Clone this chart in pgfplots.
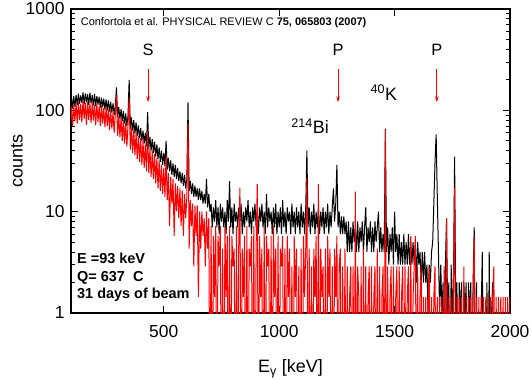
\documentclass[border=0pt]{standalone}
\usepackage{pgfplots}
\pgfplotsset{compat=1.18}
\usepackage{pgfplotstable}
\usetikzlibrary{arrows.meta}
\usepackage{fontspec}
\setmainfont{Liberation Sans}
\pgfplotstableread{
x b r
95 112 72
100 135 108
105 104 70
110 138 112
115 108 78
120 142 118
125 112 74
130 146 121
135 116 80
140 140 115
145 118 76
150 150 124
155 114 82
160 147 119
165 120 72
170 144 122
175 113 80
180 149 117
185 117 75
190 141 120
195 112 79
200 145 114
205 110 71
210 138 116
215 114 77
220 136 110
225 106 70
230 133 113
235 108 74
240 130 106
245 102 68
250 128 108
255 100 70
260 125 102
265 97 64
270 121 100
275 95 66
280 117 95
285 90 60
290 112 92
295 168 142
300 86 56
305 108 88
310 82 54
315 103 84
320 78 50
325 98 80
330 74 47
335 93 76
340 70 44
345 89 71
350 200 132
355 66 41
360 85 68
365 63 38
370 80 64
375 59 36
380 76 60
385 56 33
390 71 56
395 53 31
400 67 53
405 50 29
410 63 50
415 47 27
420 60 46
425 44 25
430 96 62
435 42 24
440 55 42
445 40 22
450 52 40
455 38 21
460 49 37
465 35 19
470 46 34
475 33 17
480 43 32
485 31 16
490 40 29
495 29 15
500 38 27
505 28 14
510 50 36
515 26 13
520 34 24
525 25 7.2
530 32 22
535 23 12
540 30 21
545 22 5.76
550 29 19
555 21 10.08
560 27 18
565 20 8.64
570 25 17
575 19 7.2
580 24 16
585 18 5.76
590 23 15
595 17 8.64
600 21 14
605 120 75
610 16 4.32
615 20 13
620 15 7.2
625 19 12
630 14 2.88
635 18 11.5
640 14 5.76
645 17 11.5
650 13 1.44
655 17 10.08
660 13 4.32
665 16 10.08
670 12 5.76
675 15 8.64
680 12 2.88
685 21 10.08
690 11 4.32
695 15 8.64
700 10 0.05
705 12 7.2
710 7 0.05
715 11 5.76
720 8 1.44
725 13 7.2
730 7 0.05
735 11 5.76
740 6 2.88
745 12 7.2
750 8 0.05
755 11 4.32
760 7 0.05
765 10 7.2
770 6 1.44
775 13 5.76
780 8 0.05
785 20 7.2
790 7 0.05
795 11 5.76
800 6 2.88
805 12 4.32
810 8 0.05
815 10 7.2
820 7 0.05
825 11 5.76
830 8 17.3
835 12 0.05
840 6 4.32
845 10 1.44
850 7 5.76
855 11 0.05
860 8 7.2
865 13 0.05
870 7 4.32
875 10 2.88
880 6 5.76
885 11 0.05
890 8 7.2
895 12 0.05
900 7 4.32
905 10 18.7
910 6 0.05
915 11 5.76
920 8 1.44
925 12 4.32
930 7 0.05
935 10 7.2
940 6 0.05
945 15 5.76
950 7 2.88
955 11 4.32
960 8 0.05
965 10 5.76
970 6 0.05
975 11 7.2
980 7 1.44
985 12 4.32
990 6 0.05
995 10 5.76
1000 7 0.05
1005 11 4.32
1010 6 2.88
1015 13 5.76
1020 7 0.05
1025 10 4.32
1030 6 0.05
1035 11 5.76
1040 8 1.44
1045 10 4.32
1050 6 0.05
1055 12 2.88
1060 7 0.05
1065 10 5.76
1070 6 1.44
1075 11 4.32
1080 7 0.05
1085 10 2.88
1090 6 0.05
1095 12 4.32
1100 7 0.05
1105 10 5.76
1110 6 1.44
1115 11 4.32
1120 40 21.6
1125 7 0.05
1130 11 4.32
1135 6 0.05
1140 10 2.88
1145 7 0.05
1150 12 4.32
1155 6 1.44
1160 10 5.76
1165 7 0.05
1170 11 18.7
1175 6 0.05
1180 10 4.32
1185 7 1.44
1190 11 2.88
1195 6 0.05
1200 10 4.32
1205 7 0.05
1210 12 5.76
1215 6 1.44
1220 10 4.32
1225 7 0.05
1230 11 2.88
1235 17 0.05
1240 8 4.32
1245 12 1.44
1250 29 5.76
1255 7 0.05
1260 10 2.88
1265 6 4.32
1270 9 0.05
1275 6 2.88
1280 9 0.05
1285 6 4.32
1290 8 0.05
1295 4 2.88
1300 8 0.05
1305 4 1.44
1310 7 2.88
1315 4 0.05
1320 8 2.88
1325 5 0.05
1330 7 15.8
1335 4 0.05
1340 8 2.88
1345 4 1.44
1350 7 0.05
1355 5 2.88
1360 8 0.05
1365 4 4.32
1370 7 0.05
1375 11 2.88
1380 4 0.05
1385 7 1.44
1390 5 2.88
1395 8 0.05
1400 4 2.88
1405 7 0.05
1410 4 1.44
1415 8 2.88
1420 5 0.05
1425 7 4.32
1430 10 0.05
1435 4 2.88
1440 7 0.05
1445 4 1.44
1450 6 2.88
1455 4 0.05
1460 66 64
1465 4 0.05
1470 7 2.88
1475 3 0.05
1480 6 1.44
1485 4 2.88
1490 7 0.05
1495 3 2.88
1500 10 0.05
1505 4 1.44
1510 6 2.88
1515 3 0.05
1520 6 2.88
1525 3 0.05
1530 5 1.44
1535 3 2.88
1540 6 0.05
1545 3 2.88
1550 5 0.05
1555 3 1.44
1560 6 2.88
1565 3 0.05
1570 5 5.76
1575 3 0.05
1580 5 1.44
1585 3 2.88
1590 5 5.76
1595 2 0.05
1600 5 2.88
1605 3 0.05
1610 4 1.44
1615 2 2.88
1620 4 0.05
1625 2 1.44
1630 4 0.05
1635 2 1.44
1640 3 0.05
1645 1 1.44
1650 3 2.88
1655 2 0.05
1660 4 1.44
1665 5 0.05
1670 12 1.44
1675 30 2.88
1680 58 0.05
1685 14 1.44
1690 4 0.05
1695 1 1.44
1700 3 0.05
1705 1 1.44
1710 2 0.05
1715 0.05 2.88
1720 3 0.05
1725 8 8.64
1730 1 0.05
1735 2 1.44
1740 0.05 0.05
1745 3 1.44
1750 1 0.05
1755 2 1.44
1760 35 17.3
1765 1 0.05
1770 2 1.44
1775 0.05 0.05
1780 2 1.44
1785 1 0.05
1790 2 1.44
1795 0.05 0.05
1800 2 2.88
1805 1 0.05
1810 2 1.44
1815 0.05 0.05
1820 2 1.44
1825 1 0.05
1830 2 1.44
1835 0.05 0.05
1840 2 1.44
1845 7 5.76
1850 0.05 0.05
1855 2 1.44
1860 0.05 0.05
1865 1 1.44
1870 0.05 0.05
1875 1 1.44
1880 4 0.05
1885 0.05 1.44
1890 1 0.05
1895 0.05 1.44
1900 2 0.05
1905 0.05 1.44
1910 4 0.05
1915 0.05 1.44
1920 1 0.05
1925 2 1.44
1930 0.05 2.88
1935 1 0.05
1940 0.05 1.44
1945 1 0.05
1950 0.05 1.44
1955 1 0.05
1960 0.05 1.44
1965 1 0.05
1970 0.05 1.44
1975 1 0.05
1980 0.05 1.44
1985 1 0.05
1990 0.05 1.44
1995 1 0.05
2000 0.05 1.44
2005 1 0.05
}\spec
\begin{document}
\begin{tikzpicture}
\begin{axis}[
  scale only axis, width=439bp, height=304bp,
  xmin=98, xmax=2000, ymin=1, ymax=1000, ymode=log,
  xtick={500,1000,1500,2000}, xticklabels={500,1000,1500,2000},
  ytick={1,10,100,1000}, yticklabels={1,10,100,1000},
  minor ytick={2,3,4,5,6,7,8,9,20,30,40,50,60,70,80,90,200,300,400,500,600,700,800,900},
  tick align=inside, tick pos=both,
  xticklabel pos=lower, yticklabel pos=left,
  major tick length=7bp, minor tick length=4bp,
  every tick/.style={black, line width=0.8bp},
  axis line style={line width=1.1bp},
  ticklabel style={font=\fontsize{17.5}{20}\selectfont},
  yticklabel style={xshift=-3bp},
  xticklabel style={yshift=-9bp},
  xlabel={E\textsubscript{γ} [keV]},
  ylabel={counts},
  every axis x label/.style={at={(axis description cs:0.5,0)}, anchor=center, yshift=-56bp, font=\fontsize{18}{20}\selectfont},
  every axis y label/.style={at={(axis description cs:-0.123,0.5)}, anchor=center, rotate=90, font=\fontsize{18}{20}\selectfont},
]
\addplot[black, sharp plot, line width=1.0bp, line join=bevel] table[x=x, y=b] {\spec};
\addplot[red, sharp plot, line width=1.0bp, line join=bevel] table[x=x, y=r] {\spec};
\coordinate (sw) at (rel axis cs:0,0);
\coordinate (ne) at (rel axis cs:1,1);
\node[anchor=base west, inner sep=0pt, font=\fontsize{11}{13}\selectfont] at (axis cs:140,684) {Confortola et al. PHYSICAL REVIEW C \textbf{75, 065803 (2007)}};
\node[anchor=base, inner sep=0pt, font=\fontsize{16.5}{19}\selectfont] at (axis cs:432,351) {S};
\node[anchor=base, inner sep=0pt, font=\fontsize{16.5}{19}\selectfont] at (axis cs:1255,351) {P};
\node[anchor=base, inner sep=0pt, font=\fontsize{16.5}{19}\selectfont] at (axis cs:1683,351) {P};
\draw[red, line width=0.9bp, -{Stealth[length=6bp,width=3.5bp]}] (axis cs:432,255) -- (axis cs:432,120);
\draw[red, line width=0.9bp, -{Stealth[length=6bp,width=3.5bp]}] (axis cs:1255,255) -- (axis cs:1255,120);
\draw[red, line width=0.9bp, -{Stealth[length=6bp,width=3.5bp]}] (axis cs:1683,255) -- (axis cs:1683,120);
\node[anchor=base east, inner sep=0pt, font=\fontsize{18}{20}\selectfont] at (axis cs:1512,126) {\textsuperscript{40}K};
\node[anchor=base east, inner sep=0pt, font=\fontsize{18}{20}\selectfont] at (axis cs:1216,59.2) {\textsuperscript{214}Bi};
\node[anchor=base west, inner sep=0pt, font=\bfseries\fontsize{14.5}{17}\selectfont] at (axis cs:124,3.05) {E =93 keV};
\node[anchor=base west, inner sep=0pt, font=\bfseries\fontsize{14.5}{17}\selectfont] at (axis cs:124,2.03) {Q= 637~~C};
\node[anchor=base west, inner sep=0pt, font=\bfseries\fontsize{14.5}{17}\selectfont] at (axis cs:124,1.376) {31 days of beam};
\end{axis}
\pgfresetboundingbox
\path[use as bounding box] ([xshift=-71bp,yshift=-67bp]sw) rectangle ([xshift=22bp,yshift=9bp]ne);
\end{tikzpicture}
\end{document}
